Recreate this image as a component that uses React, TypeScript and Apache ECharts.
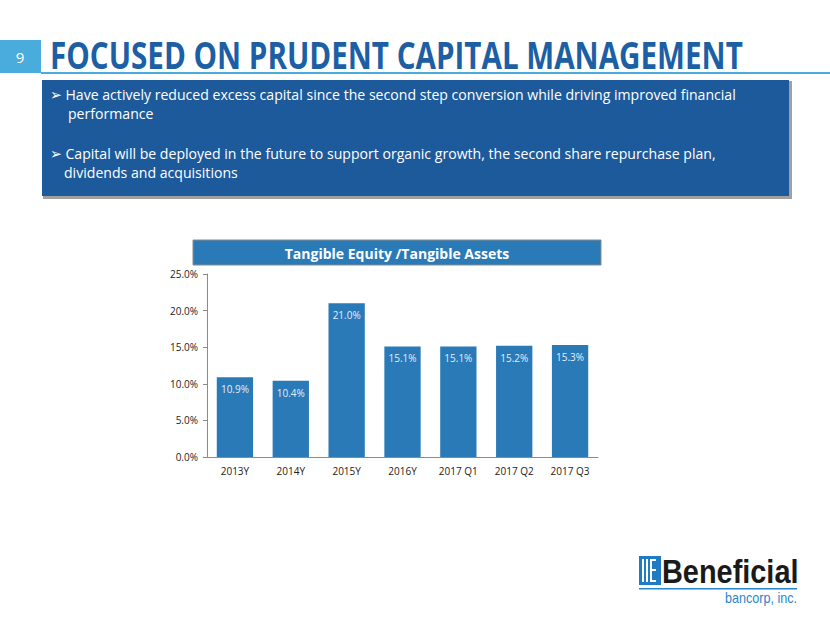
import React, { useEffect, useRef } from "react";
import * as echarts from "echarts";

const categories = ["2013Y", "2014Y", "2015Y", "2016Y", "2017 Q1", "2017 Q2", "2017 Q3"];
const ratioValues = [10.9, 10.4, 21.0, 15.1, 15.1, 15.2, 15.3];
const yTicks = { min: 0, max: 25, interval: 5 };
const slideTitle = "FOCUSED ON PRUDENT CAPITAL MANAGEMENT";
const slideNumber = "9";
const chartTitle = "Tangible Equity /Tangible Assets";
const bulletLines = [
  "➢ Have actively reduced excess capital since the second step conversion while driving improved financial",
  "performance",
  "➢ Capital will be deployed in the future to support organic growth, the second share repurchase plan,",
  "dividends and acquisitions",
];

export default function App() {
  const ref = useRef<HTMLDivElement>(null);
  useEffect(() => {
    const chart = echarts.init(ref.current!, null, { renderer: "svg" });
    const bulletFont = "15px 'Open Sans', 'DejaVu Sans', sans-serif";
    chart.setOption({
      animation: false,
      backgroundColor: "#ffffff",
      grid: { left: 207, right: 232, top: 274, bottom: 166 },
      xAxis: {
        type: "category",
        data: categories,
        axisLine: { lineStyle: { color: "#8c8c8c" } },
        axisTick: { lineStyle: { color: "#8c8c8c" }, length: 4 },
        axisLabel: { color: "#222", fontSize: 10, fontFamily: "'Open Sans', sans-serif", margin: 9 },
      },
      yAxis: {
        type: "value",
        min: yTicks.min,
        max: yTicks.max,
        interval: yTicks.interval,
        splitLine: { show: false },
        axisLine: { show: true, lineStyle: { color: "#8c8c8c" } },
        axisTick: { show: true, lineStyle: { color: "#8c8c8c" }, length: 4 },
        axisLabel: {
          color: "#222",
          fontSize: 10,
          fontFamily: "'Open Sans', sans-serif",
          margin: 9,
          formatter: (v: number) => v.toFixed(1) + "%",
        },
      },
      series: [
        {
          type: "bar",
          data: ratioValues,
          barWidth: "65%",
          itemStyle: { color: "#2a7ab8" },
          label: {
            show: true,
            position: "insideTop",
            distance: 7,
            color: "#e4edf7",
            fontSize: 10,
            fontFamily: "'Open Sans', sans-serif",
            formatter: (p: any) => p.value.toFixed(1) + "%",
          },
        },
      ],
      graphic: [
        // slide number box
        { type: "rect", shape: { x: 0, y: 40, width: 41, height: 33 }, style: { fill: "#4aacdc" } },
        {
          type: "text",
          x: 20,
          y: 57,
          style: { text: slideNumber, fill: "#ffffff", font: "15px 'Open Sans', sans-serif", align: "center", verticalAlign: "middle" },
        },
        // title underline
        { type: "rect", shape: { x: 41, y: 72, width: 789, height: 2 }, style: { fill: "#4aacdc" } },
        {
          type: "text",
          x: 50,
          y: 55,
          scaleX: 0.8,
          style: {
            text: slideTitle,
            fill: "#1d5fa5",
            font: "bold 37px 'Open Sans', sans-serif",
            align: "left",
            verticalAlign: "middle",
          },
        },
        // bullet box
        { type: "rect", shape: { x: 43, y: 81, width: 749, height: 118 }, style: { fill: "#a0a0a0" } },
        { type: "rect", shape: { x: 42, y: 80, width: 747, height: 116 }, style: { fill: "#1d5a9b" } },
        {
          type: "text",
          x: 50,
          y: 94,
          scaleX: 0.94,
          style: { text: bulletLines[0], fill: "#ffffff", font: bulletFont, verticalAlign: "middle" },
        },
        {
          type: "text",
          x: 68,
          y: 113,
          scaleX: 0.94,
          style: { text: bulletLines[1], fill: "#ffffff", font: bulletFont, verticalAlign: "middle" },
        },
        {
          type: "text",
          x: 50,
          y: 153,
          scaleX: 0.94,
          style: { text: bulletLines[2], fill: "#ffffff", font: bulletFont, verticalAlign: "middle" },
        },
        {
          type: "text",
          x: 64,
          y: 172,
          scaleX: 0.94,
          style: { text: bulletLines[3], fill: "#ffffff", font: bulletFont, verticalAlign: "middle" },
        },
        // chart title box
        { type: "rect", shape: { x: 193, y: 240, width: 408, height: 25 }, style: { fill: "#2a7ab8", stroke: "#8a8a8a", lineWidth: 1 } },
        {
          type: "text",
          x: 397,
          y: 253,
          style: {
            text: chartTitle,
            fill: "#ffffff",
            font: "bold 14px 'Open Sans', sans-serif",
            align: "center",
            verticalAlign: "middle",
          },
        },
        // logo
        { type: "rect", shape: { x: 639, y: 556, width: 22, height: 29 }, style: { fill: "#1f7cc4" } },
        { type: "rect", shape: { x: 642, y: 559, width: 2, height: 23 }, style: { fill: "#ffffff" } },
        { type: "rect", shape: { x: 646, y: 559, width: 2, height: 23 }, style: { fill: "#ffffff" } },
        { type: "rect", shape: { x: 650, y: 559, width: 2, height: 23 }, style: { fill: "#ffffff" } },
        { type: "rect", shape: { x: 650, y: 559, width: 6, height: 2 }, style: { fill: "#ffffff" } },
        { type: "rect", shape: { x: 650, y: 569, width: 6, height: 2 }, style: { fill: "#ffffff" } },
        { type: "rect", shape: { x: 650, y: 580, width: 6, height: 2 }, style: { fill: "#ffffff" } },
        {
          type: "text",
          x: 662,
          y: 571,
          scaleX: 0.85,
          style: { text: "Beneficial", fill: "#1a1a1a", font: "bold 34px 'Liberation Sans', Arial, sans-serif", verticalAlign: "middle" },
        },
        { type: "rect", shape: { x: 639, y: 588, width: 158, height: 1.5 }, style: { fill: "#2a86cc" } },
        {
          type: "text",
          x: 797,
          y: 598,
          scaleX: 0.9,
          style: { text: "bancorp, inc.", fill: "#2a86cc", font: "14px 'Liberation Sans', Arial, sans-serif", align: "right", verticalAlign: "middle" },
        },
      ],
    });
    return () => chart.dispose();
  }, []);
  return <div ref={ref} style={{ position: "fixed", left: 0, top: 0, width: 830, height: 623 }} />;
}
